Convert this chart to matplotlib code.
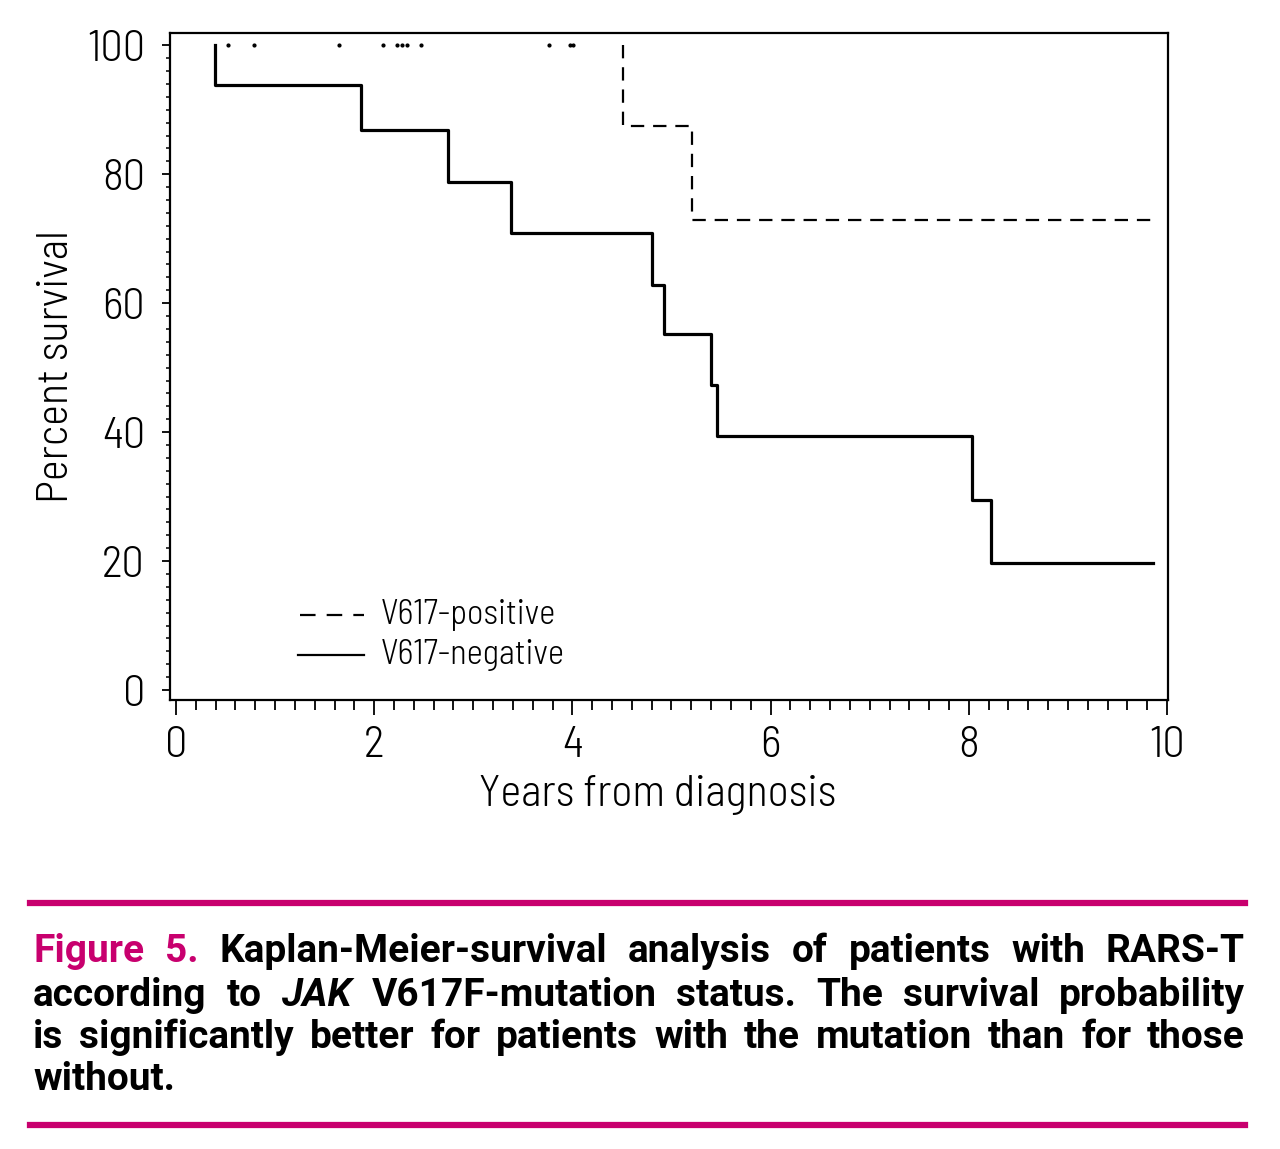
import numpy as np
import matplotlib
matplotlib.use("Agg")
import matplotlib.pyplot as plt

axis_font = ['Barlow Semi Condensed', 'DejaVu Sans']
cap_font = ['Roboto', 'DejaVu Sans']
plt.rcParams['font.family'] = axis_font

# Kaplan-Meier step data (years, percent survival after each step)
neg_t = [0.39, 0.39, 1.87, 2.75, 3.38, 4.80, 4.92, 5.40, 5.46, 8.03, 8.22, 9.86]
neg_s = [100, 93.8, 86.8, 78.8, 70.9, 62.8, 55.2, 47.3, 39.4, 29.5, 19.7, 19.7]
pos_t = [4.51, 4.51, 5.21, 9.86]
pos_s = [100, 87.4, 72.9, 72.9]
pos_censor = [0.53, 0.79, 1.65, 2.09, 2.23, 2.28, 2.33, 2.47, 3.76, 3.98, 4.01]

xticks = [0, 2, 4, 6, 8, 10]
yticks = [0, 20, 40, 60, 80, 100]

magenta = "#c8006e"

fig = plt.figure(figsize=(12.8, 11.49), dpi=100)
ax = fig.add_axes([170/1280, 1-700/1149, 998/1280, 667/1149])

ax.step(neg_t, neg_s, where='post', color='black', lw=2.3)
ax.step(pos_t, pos_s, where='post', color='black', lw=1.6, linestyle=(0, (6, 4)))
ax.plot(pos_censor, [100] * len(pos_censor), linestyle='none', marker='o',
        markersize=2.0, color='black')

ax.set_xlim(-0.06, 10.01)
ax.set_ylim(-1.55, 101.9)
ax.set_xticks(xticks)
ax.set_yticks(yticks)
ax.set_xticks(np.arange(0, 10.01, 0.2), minor=True)
ax.set_yticks(np.arange(0, 100.1, 2), minor=True)
ax.tick_params(axis='both', which='major', direction='out', width=1.3,
               labelsize=32, colors='black')
ax.tick_params(axis='x', which='major', length=11, pad=8)
ax.tick_params(axis='y', which='major', length=6, pad=12)
ax.tick_params(axis='x', which='minor', length=7, width=1.3, direction='out')
ax.tick_params(axis='y', which='minor', length=3, width=1.1, direction='out')
for lab in ax.get_xticklabels() + ax.get_yticklabels():
    lab.set_fontweight(300)
for s in ax.spines.values():
    s.set_linewidth(1.6)

ax.set_xlabel("Years from diagnosis", fontsize=32, fontweight=300)
ax.xaxis.set_label_coords(0.489, -0.112)
ax.set_ylabel("Percent survival", fontsize=32, fontweight=300, labelpad=7)

# legend drawn by hand inside the axes
ax.plot([1.25, 1.9], [11.6, 11.6], color='black', lw=1.6, linestyle=(0, (7, 5)))
ax.plot([1.23, 1.9], [5.4, 5.4], color='black', lw=1.6)
ax.text(2.07, 11.6, "V617-positive", fontsize=25, fontweight=300, va='center')
ax.text(2.07, 5.4, "V617-negative", fontsize=25, fontweight=300, va='center')

# caption rules
for yy in [1-903/1149, 1-1125/1149]:
    fig.add_artist(plt.Line2D([30/1280, 1245/1280], [yy, yy],
                              color=magenta, lw=4.5, transform=fig.transFigure))

# justified caption, word by word
lines = [
    [("Figure", magenta, 'normal'), ("5.", magenta, 'normal'), ("Kaplan-Meier-survival", 'black', 'normal'),
     ("analysis", 'black', 'normal'), ("of", 'black', 'normal'), ("patients", 'black', 'normal'),
     ("with", 'black', 'normal'), ("RARS-T", 'black', 'normal')],
    [("according", 'black', 'normal'), ("to", 'black', 'normal'), ("JAK", 'black', 'italic'),
     ("V617F-mutation", 'black', 'normal'), ("status.", 'black', 'normal'), ("The", 'black', 'normal'),
     ("survival", 'black', 'normal'), ("probability", 'black', 'normal')],
    [("is", 'black', 'normal'), ("significantly", 'black', 'normal'), ("better", 'black', 'normal'),
     ("for", 'black', 'normal'), ("patients", 'black', 'normal'), ("with", 'black', 'normal'),
     ("the", 'black', 'normal'), ("mutation", 'black', 'normal'), ("than", 'black', 'normal'),
     ("for", 'black', 'normal'), ("those", 'black', 'normal')],
    [("without.", 'black', 'normal')],
]
line_y = [952, 995, 1037, 1080]
x_left, x_right = 33, 1245

fig.canvas.draw()
renderer = fig.canvas.get_renderer()
for i, words in enumerate(lines):
    texts = []
    for w, c, st in words:
        t = fig.text(0, 1-line_y[i]/1149, w, color=c, style=st, fontsize=28,
                     family=cap_font, weight='bold', va='center', ha='left')
        texts.append(t)
    widths = [t.get_window_extent(renderer).width for t in texts]
    if len(texts) > 1 and i < len(lines) - 1:
        gap = (x_right - x_left - sum(widths)) / (len(texts) - 1)
    else:
        gap = 9
    x = x_left
    for t, wd in zip(texts, widths):
        t.set_x(x / 1280)
        x += wd + gap

fig.savefig("out.png", dpi=100)
